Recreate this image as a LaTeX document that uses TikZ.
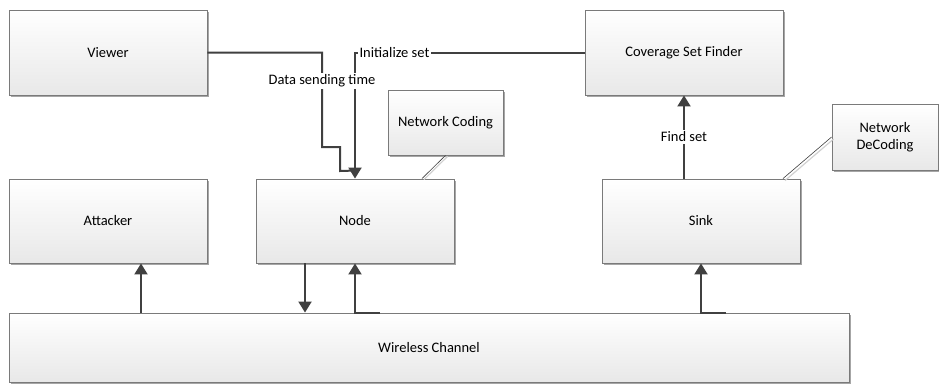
\documentclass[tikz,border=0pt]{standalone}
\usepackage{fontspec}
\setmainfont{Carlito}
\usetikzlibrary{arrows.meta,calc,shadows}

\definecolor{linec}{HTML}{404040}
\definecolor{boxline}{HTML}{7A7A7A}

\tikzset{
  block/.style={rectangle, draw=boxline, line width=0.9pt,
    top color=white, bottom color=black!9,
    drop shadow={shadow xshift=2pt, shadow yshift=-2pt, fill=black!35, opacity=1},
    font=\fontsize{14.5}{17}\selectfont, align=center, inner sep=2pt},
  conn/.style={draw=linec, line width=2pt},
  arr/.style={-{Triangle[width=13pt,length=11pt]}},
  lbl/.style={fill=white, inner sep=1.5pt, font=\fontsize{14.5}{17}\selectfont},
  leader/.style={draw=linec, line width=0.6pt},
  leadershade/.style={draw=black!18, line width=1.2pt}
}

\begin{document}
\begin{tikzpicture}[x=1pt,y=-1pt]
  \fill[white] (0,0) rectangle (939,383);
  \useasboundingbox (0,0) rectangle (939,383);

  % main blocks
  \node[block, minimum width=198pt, minimum height=85pt] (viewer)   at (108,52.5) {Viewer};
  \node[block, minimum width=198pt, minimum height=85pt] (cover)    at (684,52.5) {Coverage Set Finder};
  \node[block, minimum width=198pt, minimum height=84pt] (attacker) at (108,221) {Attacker};
  \node[block, minimum width=198pt, minimum height=84pt] (node)     at (355,221) {Node};
  \node[block, minimum width=198pt, minimum height=84pt] (sink)     at (701,221) {Sink};
  \node[block, minimum width=840pt, minimum height=69pt] (wireless) at (429,347.5) {Wireless Channel};

  % callout boxes
  \node[block, minimum width=115pt, minimum height=65pt] (nc)  at (445.5,122.5) {Network Coding};
  \node[block, minimum width=106pt, minimum height=66pt] (ndc) at (885,137) {Network\\DeCoding};

  % callout leaders
  \coordinate (ncfoot)  at ($(node.north)+(67,0)$);
  \coordinate (ndcfoot) at ($(sink.north)+(82,0)$);
  \draw[leadershade] ($(nc.south)+(2,1)$) -- ($(ncfoot)+(2,1)$);
  \draw[leader] (nc.south) -- (ncfoot);
  \draw[leadershade] ($(ndc.west)+(2,2)$) -- ($(ndcfoot)+(2,2)$);
  \draw[leader] (ndc.west) -- (ndcfoot);

  % viewer to node
  \coordinate (vjoin) at ($(node.north)+(0,-8)$);
  \draw[conn] (viewer.east) -| (322,147) -| (340,171) -- (vjoin);

  % coverage set finder to node
  \draw[conn,arr] (cover.west) -| (node.north);
  \node[lbl] at (394.5,52.5) {Initialize set};
  \node[lbl] at (322,81) {Data sending time};

  % sink to coverage set finder
  \draw[conn,arr] (sink.north -| cover.south) -- (cover.south)
    node[lbl, midway] {Find set};

  % wireless channel links
  \coordinate (att) at ($(attacker.south)+(33,0)$);
  \draw[conn,arr] (att |- wireless.north) -- (att);

  \coordinate (nout) at ($(node.south)+(-50,0)$);
  \draw[conn,arr] (nout) -- (nout |- wireless.north);

  \coordinate (nin) at (wireless.north -| node.south);
  \draw[conn,arr] ($(nin)+(25,0)$) -- (nin) -- (node.south);

  \coordinate (sin) at (wireless.north -| sink.south);
  \draw[conn,arr] ($(sin)+(25,0)$) -- (sin) -- (sink.south);
\end{tikzpicture}
\end{document}
